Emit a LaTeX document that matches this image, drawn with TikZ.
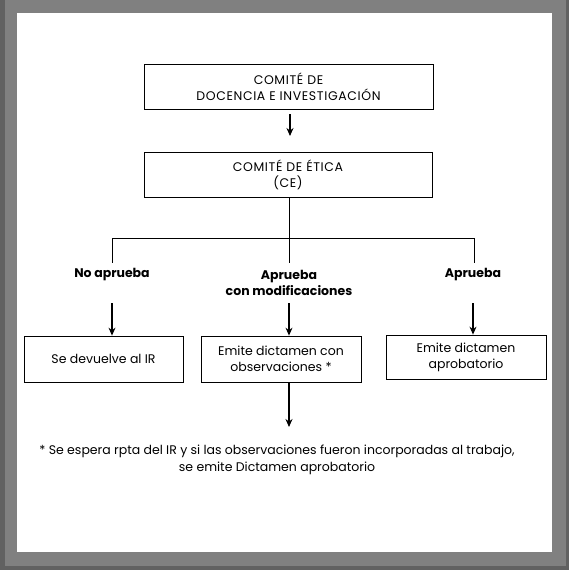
\documentclass[tikz,border=0pt]{standalone}
\usepackage{fontspec}
\setmainfont{Poppins}
\newfontfamily\capsfont[LetterSpace=5]{Poppins}
\usetikzlibrary{arrows.meta}
\begin{document}
\begin{tikzpicture}[x=1pt,y=-1pt,
  box/.style={draw=black,line width=0.8pt,minimum width=#1,minimum height=45pt,inner sep=0pt,align=center,font=\fontsize{12.5}{16}\selectfont},
  capbox/.style={box=#1,font=\capsfont\fontsize{12.5}{16}\selectfont},
  lbl/.style={align=center,font=\fontsize{12.5}{16}\selectfont\bfseries},
  arr/.style={line width=1.1pt,-{Stealth[length=8pt,width=7pt]}},
  ln/.style={line width=0.8pt}]
\fill[black!50] (0,0) rectangle (569,570);
\fill[black!62] (0,0) rectangle (5,570);
\fill[black!62] (566,0) rectangle (569,570);
\fill[black!62] (0,566) rectangle (569,570);
\fill[white] (17,13) rectangle (552,552);
\useasboundingbox (0,0) rectangle (569,570);
\node[capbox=289pt] (b1) at (288.5,87) {COMITÉ DE\\DOCENCIA E INVESTIGACIÓN};
\node[capbox=288pt] (b2) at (288,175) {COMITÉ DE ÉTICA\\(CE)};
\draw[arr] (290,114) -- (290,136);
\coordinate (j) at (289,238);
\coordinate (jl) at (112,238);
\coordinate (jr) at (474,238);
\draw[ln] (b2.south -| j) -- (j);
\draw[ln] (jl) -- (jr);
\draw[ln] (jl) -- (112,263);
\draw[ln] (j) -- (289,263);
\draw[ln] (jr) -- (474,263);
\node[lbl] (l1) at (112,275) {No aprueba};
\node[lbl] (l2) at (289,283) {Aprueba\\con modificaciones};
\node[lbl] (l3) at (473,275) {Aprueba};
\node[box=159pt,minimum height=46pt] (c1) at (103.5,359) {Se devuelve al IR};
\node[box=160pt,minimum height=46pt] (c2) at (281,359) {Emite dictamen con\\observaciones *};
\node[box=160pt,minimum height=44pt] (c3) at (466,357) {Emite dictamen\\aprobatorio};
\draw[arr] (112,303) -- (c1.north -| 112,0);
\draw[arr] (289,303) -- (c2.north -| 289,0);
\draw[arr] (473,303) -- (c3.north -| 473,0);
\coordinate (f) at (289,427);
\draw[arr] (c2.south -| f) -- (f);
\node[align=center,font=\fontsize{12.5}{17}\selectfont] (fn) at (277,460) {* Se espera rpta del IR y si las observaciones fueron incorporadas al trabajo,\\se emite Dictamen aprobatorio};
\end{tikzpicture}
\end{document}
